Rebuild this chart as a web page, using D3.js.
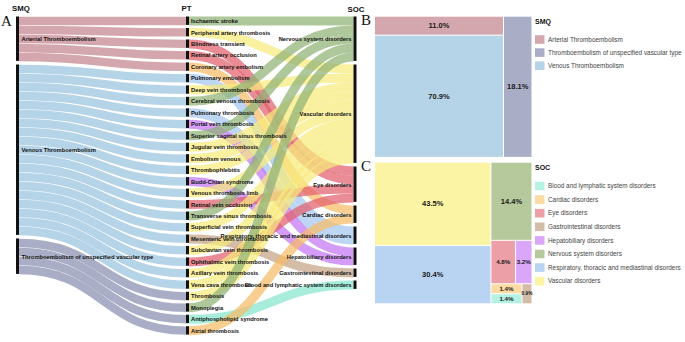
<!DOCTYPE html>
<html lang="en">
<head>
<meta charset="UTF-8">
<title>Thromboembolism — SMQ / PT / SOC</title>
<script src="https://d3js.org/d3.v7.min.js"></script>
<style>
html,body{margin:0;padding:0;background:#fff}
svg{display:block;font-family:"Liberation Sans",Arial,sans-serif}
.head{font-size:7.8px;font-weight:700;fill:#111}
.panel{font-family:"Liberation Serif","Times New Roman",serif;font-size:15px;fill:#111}
.lbl{font-size:5.8px;font-weight:700;fill:#111}
.tm-lbl{font-weight:700;fill:#1a1a1a}
.lg-title{font-size:7px;font-weight:700;fill:#111}
.lg-text{font-size:6.4px;fill:#444}
</style>
</head>
<body>
<svg id="chart" width="685" height="342"></svg>
<script>
// ---- data ----
const smqNames = ["Arterial Thromboembolism", "Venous Thromboembolism", "Thromboembolism of unspecified vascular type"];
const smqColors = ["#d4a7ae", "#b6d4e8", "#aaadc6"];

const arterialPT = ["Ischaemic stroke", "Peripheral artery thrombosis", "Blindness transient", "Retinal artery occlusion", "Coronary artery embolism"];
const venousPT = ["Pulmonary embolism", "Deep vein thrombosis", "Cerebral venous thrombosis", "Pulmonary thrombosis", "Portal vein thrombosis",
  "Superior sagittal sinus thrombosis", "Jugular vein thrombosis", "Embolism venous", "Thrombophlebitis", "Budd-Chiari syndrome",
  "Venous thrombosis limb", "Retinal vein occlusion", "Transverse sinus thrombosis", "Superficial vein thrombosis", "Mesenteric vein thrombosis",
  "Subclavian vein thrombosis", "Ophthalmic vein thrombosis", "Axillary vein thrombosis", "Vena cava thrombosis"];
const unspecifiedPT = ["Thrombosis", "Monoplegia", "Antiphospholipid syndrome", "Atrial thrombosis"];

// SOC of each PT, same order as the PT lists above
const ptSoc = [
  "Nervous system disorders", "Vascular disorders", "Eye disorders", "Eye disorders", "Cardiac disorders",
  "Respiratory, thoracic and mediastinal disorders", "Vascular disorders", "Nervous system disorders", "Respiratory, thoracic and mediastinal disorders", "Hepatobiliary disorders",
  "Nervous system disorders", "Vascular disorders", "Vascular disorders", "Vascular disorders", "Hepatobiliary disorders",
  "Vascular disorders", "Eye disorders", "Nervous system disorders", "Vascular disorders", "Gastrointestinal disorders",
  "Vascular disorders", "Eye disorders", "Vascular disorders", "Vascular disorders",
  "Vascular disorders", "Nervous system disorders", "Blood and lymphatic system disorders", "Cardiac disorders"
];

// SOC (legend order, alphabetical)
const socNames = ["Blood and lymphatic system disorders", "Cardiac disorders", "Eye disorders", "Gastrointestinal disorders",
  "Hepatobiliary disorders", "Nervous system disorders", "Respiratory, thoracic and mediastinal disorders", "Vascular disorders"];
const socFill = ["#b5f2e3", "#fddaa2", "#ec9fa6", "#d3bda9", "#d9a6fa", "#b5c99d", "#b8d4f2", "#fbf4a5"];
const socLink = ["#86e6cd", "#f6bb66", "#e2606c", "#c3a283", "#c476f4", "#8fb274", "#a3c6ef", "#f6ea7c"];
// order of SOC nodes in the Sankey column
const socOrder = ["Nervous system disorders", "Vascular disorders", "Eye disorders", "Cardiac disorders",
  "Respiratory, thoracic and mediastinal disorders", "Hepatobiliary disorders", "Gastrointestinal disorders", "Blood and lymphatic system disorders"];

// treemap shares (%)
const smqShare = [11.0, 70.9, 18.1];
const socShare = [1.4, 1.4, 4.8, 0.9, 3.2, 14.4, 30.4, 43.5];

// ---- layout ----
const svg = d3.select("#chart");
const yTop = 16.5, yBottom = 335.2;
const colX = { smq: 16, pt: 186, soc: 353.5 };
const nodeW = 3;
const padPT = 2.47, padOuter = 3;

const ptNames = arterialPT.concat(venousPT, unspecifiedPT);
const ptSmq = arterialPT.map(() => 0).concat(venousPT.map(() => 1), unspecifiedPT.map(() => 2));

// px per PT (every link has value 1), from the tallest column
const k = (yBottom - yTop - (ptNames.length - 1) * padPT) / ptNames.length;
const h = d3.scaleLinear().domain([0, 1]).range([0, k]);

function stack(nodes, pad) {
  let y = yTop;
  nodes.forEach(n => { n.y0 = y; n.y1 = y + h(n.value); y = n.y1 + pad; });
  return nodes;
}

const smqNodes = stack(smqNames.map((name, i) => ({ name, value: ptSmq.filter(s => s === i).length, off: 0 })), padOuter);
const ptNodes = stack(ptNames.map(name => ({ name, value: 1 })), padPT);
const socNodes = stack(socOrder.map(name => ({ name, value: ptSoc.filter(s => s === name).length, off: 0 })), padOuter);

const smqLinks = [], socLinks = [];
ptNodes.forEach((p, i) => {
  const s = smqNodes[ptSmq[i]];
  smqLinks.push({ y0: s.y0 + s.off + h(0.5), y1: (p.y0 + p.y1) / 2, color: smqColors[ptSmq[i]] });
  s.off += h(1);
  const t = socNodes[socOrder.indexOf(ptSoc[i])];
  socLinks.push({ y0: (p.y0 + p.y1) / 2, y1: t.y0 + t.off + h(0.5), color: socLink[socNames.indexOf(ptSoc[i])] });
  t.off += h(1);
});

const link = d3.linkHorizontal();

svg.append("g").selectAll("path").data(smqLinks).join("path")
  .attr("d", d => link({ source: [colX.smq + nodeW, d.y0], target: [colX.pt, d.y1] }))
  .attr("fill", "none").attr("stroke", d => d.color)
  .attr("stroke-width", h(1) - 0.7);

svg.append("g").selectAll("path").data(socLinks).join("path")
  .attr("d", d => link({ source: [colX.pt + nodeW, d.y0], target: [colX.soc, d.y1] }))
  .attr("fill", "none").attr("stroke", d => d.color)
  .attr("stroke-opacity", 0.72)
  .attr("stroke-width", h(1));

const nodeG = svg.append("g").attr("fill", "#111");
[[smqNodes, colX.smq], [ptNodes, colX.pt], [socNodes, colX.soc]].forEach(([nodes, x]) => {
  nodeG.append("g").selectAll("rect").data(nodes).join("rect")
    .attr("x", x).attr("width", nodeW)
    .attr("y", d => d.y0).attr("height", d => d.y1 - d.y0 - 0.6);
});

svg.append("g").selectAll("text").data(smqNodes).join("text")
  .attr("class", "lbl").attr("x", colX.smq + nodeW + 2.5)
  .attr("y", d => (d.y0 + d.y1) / 2).attr("dy", "0.35em").text(d => d.name);

svg.append("g").selectAll("text").data(ptNodes).join("text")
  .attr("class", "lbl").attr("x", colX.pt + nodeW + 2)
  .attr("y", d => (d.y0 + d.y1) / 2).attr("dy", "0.35em").text(d => d.name);

svg.append("g").selectAll("text").data(socNodes).join("text")
  .attr("class", "lbl").attr("x", colX.soc - 2).attr("text-anchor", "end")
  .attr("y", d => (d.y0 + d.y1) / 2).attr("dy", "0.35em").text(d => d.name);

// column headers and panel letters
svg.append("text").attr("class", "head").attr("x", 12).attr("y", 11).text("SMQ");
svg.append("text").attr("class", "head").attr("x", 181.5).attr("y", 11).text("PT");
svg.append("text").attr("class", "head").attr("x", 347.5).attr("y", 12).text("SOC");
svg.append("text").attr("class", "panel").attr("x", 1).attr("y", 26).text("A");
svg.append("text").attr("class", "panel").attr("x", 361).attr("y", 25).text("B");
svg.append("text").attr("class", "panel").attr("x", 361).attr("y", 171).text("C");

// ---- treemaps ----
function labelSize(d) {
  const w = d.x1 - d.x0, hh = d.y1 - d.y0;
  return w < 12 ? 4.8 : (w < 26 || hh < 12) ? 6.2 : 7.5;
}

function drawCells(g, leaves, fill, ox, oy) {
  const cell = g.selectAll("g").data(leaves).join("g")
    .attr("transform", d => `translate(${ox + d.x0},${oy + d.y0})`);
  cell.append("rect")
    .attr("width", d => d.x1 - d.x0).attr("height", d => d.y1 - d.y0)
    .attr("fill", fill);
  cell.append("text").attr("class", "tm-lbl")
    .attr("x", d => (d.x1 - d.x0) / 2).attr("y", d => (d.y1 - d.y0) / 2)
    .attr("dy", "0.35em").attr("text-anchor", "middle")
    .style("font-size", d => labelSize(d) + "px")
    .text(d => d.data.value.toFixed(1) + "%");
}

// B: arterial over venous, unspecified on the right
const smqRoot = d3.hierarchy({ children: [
  { children: [{ name: smqNames[0], value: smqShare[0] }, { name: smqNames[1], value: smqShare[1] }] },
  { name: smqNames[2], value: smqShare[2] }
] }).sum(d => d.value || 0);

d3.treemap().size([156.5, 140.2]).paddingInner(1)
  .tile((node, x0, y0, x1, y1) => node.depth === 0
    ? d3.treemapDice(node, x0, y0, x1, y1)
    : d3.treemapSlice(node, x0, y0, x1, y1))(smqRoot);

drawCells(svg.append("g"), smqRoot.leaves(), d => smqColors[smqNames.indexOf(d.data.name)], 375, 16.7);

// C: squarified SOC shares
const socRoot = d3.hierarchy({ children: socNames.map((name, i) => ({ name, value: socShare[i] })) })
  .sum(d => d.value || 0)
  .sort((a, b) => b.value - a.value || socOrder.indexOf(a.data.name) - socOrder.indexOf(b.data.name));

d3.treemap().size([156.5, 140.6]).paddingInner(1).tile(d3.treemapSquarify)(socRoot);

drawCells(svg.append("g"), socRoot.leaves(), d => socFill[socNames.indexOf(d.data.name)], 375, 162.7);

// ---- legends ----
function legend(x, titleY, firstY, step, title, names, colors) {
  const g = svg.append("g");
  g.append("text").attr("class", "lg-title").attr("x", x).attr("y", titleY).text(title);
  const row = g.selectAll("g").data(names).join("g")
    .attr("transform", (d, i) => `translate(${x},${firstY + i * step})`);
  row.append("rect").attr("y", -4.3).attr("width", 9.5).attr("height", 8.6)
    .attr("fill", (d, i) => colors[i]);
  row.append("text").attr("class", "lg-text").attr("x", 13).attr("dy", "0.35em").text(d => d);
}

const smqLegendOrder = [0, 2, 1];
legend(535, 24.3, 39.5, 13.1, "SMQ", smqLegendOrder.map(i => smqNames[i]), smqLegendOrder.map(i => smqColors[i]));
legend(535, 169.5, 186, 13.6, "SOC", socNames, socFill);
</script>
</body>
</html>
